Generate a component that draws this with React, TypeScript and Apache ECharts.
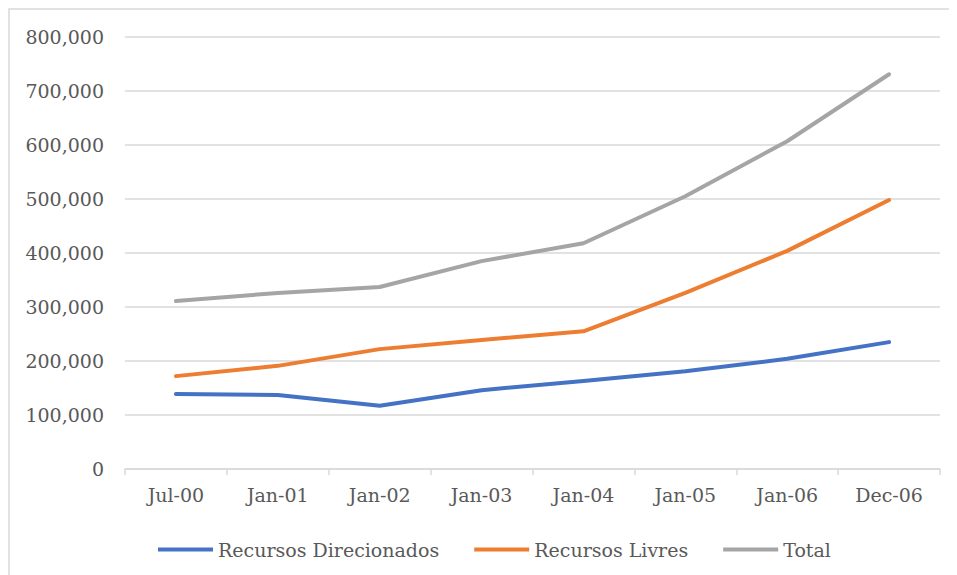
import React, { useEffect, useRef } from "react";
import * as echarts from "echarts";

const categories = ["Jul-00", "Jan-01", "Jan-02", "Jan-03", "Jan-04", "Jan-05", "Jan-06", "Dec-06"];
const recursosDirecionados = [139000, 137000, 117000, 146000, 163000, 181000, 204000, 235000];
const recursosLivres = [172000, 191000, 222000, 239000, 255000, 326000, 404000, 498000];
const total = [311000, 326000, 337000, 385000, 418000, 505000, 607000, 731000];

const FONT = "DejaVu Serif";

export default function App() {
  const ref = useRef<HTMLDivElement>(null);
  useEffect(() => {
    if (!ref.current) return;
    const chart = echarts.init(ref.current, undefined, { renderer: "svg" });
    const mk = (name: string, data: number[], color: string) => ({
      name,
      type: "line",
      data,
      symbol: "none",
      lineStyle: { color, width: 4, cap: "round", join: "round" },
      itemStyle: { color },
    });
    chart.setOption({
      animation: false,
      textStyle: { fontFamily: FONT },
      graphic: [
        {
          type: "rect",
          shape: { x: 1, y: 1, width: 2000, height: 2000 },
          style: { fill: "none", stroke: "#d9d9d9", lineWidth: 1.5 },
          silent: true,
        },
      ],
      grid: { left: 117, right: 17, top: 29, bottom: 106, containLabel: false },
      legend: {
        left: 145,
        top: 527,
        itemWidth: 55,
        itemHeight: 4,
        itemGap: 35,
        icon: "rect",
        textStyle: { fontFamily: FONT, fontSize: 19, color: "#595959" },
        data: ["Recursos Direcionados", "Recursos Livres", "Total"],
      },
      xAxis: {
        type: "category",
        data: categories,
        boundaryGap: true,
        axisLine: { lineStyle: { color: "#d9d9d9", width: 1.5 } },
        axisTick: { show: true, length: 6, lineStyle: { color: "#d9d9d9", width: 1.5 } },
        axisLabel: { fontFamily: FONT, fontSize: 19, color: "#595959", margin: 16 },
      },
      yAxis: {
        type: "value",
        min: 0,
        max: 800000,
        interval: 100000,
        axisLine: { show: false },
        axisTick: { show: false },
        splitLine: { lineStyle: { color: "#d9d9d9", width: 1.5 } },
        axisLabel: {
          fontFamily: FONT,
          fontSize: 19,
          color: "#595959",
          margin: 21,
          formatter: (v: number) => v.toLocaleString("en-US"),
        },
      },
      series: [
        mk("Recursos Direcionados", recursosDirecionados, "#4472c4"),
        mk("Recursos Livres", recursosLivres, "#ed7d31"),
        mk("Total", total, "#a5a5a5"),
      ],
    });
    return () => chart.dispose();
  }, []);
  return <div ref={ref} style={{ width: 949, height: 567 }} />;
}
